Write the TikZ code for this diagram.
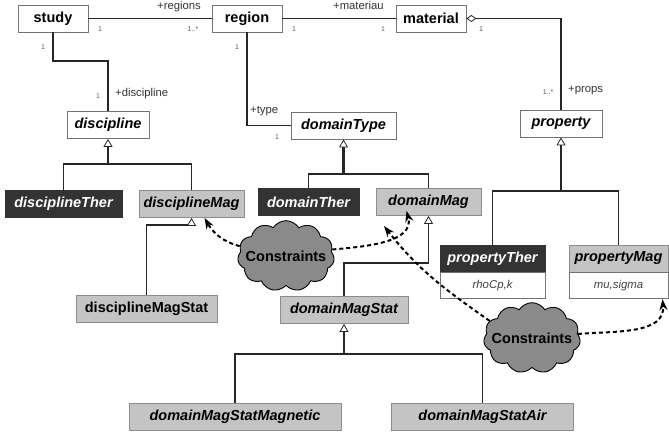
\documentclass[tikz,border=0pt]{standalone}
\usepackage{fontspec}
\setmainfont{Liberation Sans}
\usetikzlibrary{positioning,arrows.meta,shapes.symbols}

\tikzset{
  cls/.style={draw=black!55, line width=0.8pt, fill=white, minimum height=27pt,
    inner sep=0pt, font=\fontsize{14.5}{16}\selectfont\bfseries},
  abst/.style={cls, font=\fontsize{14.5}{16}\selectfont\bfseries\itshape},
  ther/.style={abst, fill=black!80, draw=black!80, text=white},
  mag/.style={abst, fill=black!23, draw=black!45},
  attr/.style={draw=black!55, line width=0.8pt, fill=white, minimum height=26pt,
    inner sep=0pt, font=\fontsize{11.4}{13}\selectfont\itshape, text=black!75},
  assoc/.style={line width=1.9pt, black!85},
  gen/.style={line width=1.4pt, black!85},
  tri/.style={-{Triangle[open, length=8pt, width=9pt, line width=0.8pt, fill=white]}},
  trunk/.style={gen, line width=2.2pt, tri},
  role/.style={font=\fontsize{11.3}{13}\selectfont, text=black!80, inner sep=0pt, anchor=base west},
  mult/.style={font=\fontsize{7}{8}\selectfont, text=black!65, inner sep=0pt},
  cld/.style={cloud, cloud puffs=11, cloud puff arc=115, aspect=1.55, draw, line width=0.9pt,
    fill=black!46, inner xsep=-8pt, inner ysep=7pt, minimum width=96pt, minimum height=59pt,
    font=\fontsize{14.5}{16}\selectfont\bfseries},
  constr/.style={line width=2pt, dash pattern=on 4pt off 3pt, -{Stealth[length=11pt, width=8pt]}}
}

\begin{document}
\begin{tikzpicture}[x=1pt, y=1pt]
  \useasboundingbox (0,0) rectangle (669,-435);

  % classes
  \node[cls, minimum width=70pt] (study) at (53,-18.5) {study};
  \node[cls, minimum width=70pt] (region) at (247,-18.5) {region};
  \node[cls, minimum width=70pt] (material) at (431,-18.5) {material};
  \node[abst, minimum width=82pt] (discipline) at (108,-125) {discipline};
  \node[abst, minimum width=105pt] (domainType) at (343.5,-125.5) {domainType};
  \node[abst, minimum width=82pt] (property) at (561,-123.5) {property};

  \node[ther, minimum width=117pt] (disciplineTher) at (63.5,-204) {disciplineTher};
  \node[mag, minimum width=105pt] (disciplineMag) at (191.5,-204) {disciplineMag};
  \node[ther, minimum width=101pt] (domainTher) at (308.5,-202) {domainTher};
  \node[mag, minimum width=105pt] (domainMag) at (428.5,-202) {domainMag};
  \node[ther, minimum width=105pt] (propertyTher) at (492.5,-258.5) {propertyTher};
  \node[attr, minimum width=105pt, below=0pt of propertyTher] (therAttr) {rhoCp,k};
  \node[mag, minimum width=99pt] (propertyMag) at (618.5,-258.5) {propertyMag};
  \node[attr, minimum width=99pt, below=0pt of propertyMag] (magAttr) {mu,sigma};

  \node[cls, fill=black!23, draw=black!45, minimum width=141pt] (disciplineMagStat) at (146.5,-309) {disciplineMagStat};
  \node[mag, minimum width=128pt] (domainMagStat) at (344,-310) {domainMagStat};
  \node[mag, minimum width=212pt] (domainMagStatMagnetic) at (235,-416.5) {domainMagStatMagnetic};
  \node[mag, minimum width=182pt] (domainMagStatAir) at (482.5,-416.5) {domainMagStatAir};

  \node[cld] (cons1) at (286,-256) {Constraints};
  \node[cld] (cons2) at (532,-338) {Constraints};

  % associations
  \draw[assoc] (study) -- (region);
  \draw[assoc] (region) -- (material);
  \draw[assoc] (study.south) -- ++(0,-29) -| (discipline.north);
  \draw[assoc] (region.south) |- (domainType.west);
  \draw[assoc, {Diamond[open, length=10pt, width=7pt, line width=0.8pt, fill=white]}-] (material.east) -| (property.north);

  \node[role] (rRegions) at (157,-9.5) {+regions};
  \node[role] (rMateriau) at (333,-9.5) {+materiau};
  \node[role] (rDiscipline) at (115,-97) {+discipline};
  \node[role] (rType) at (250,-114) {+type};
  \node[role] (rProps) at (568,-93) {+props};
  \foreach \x/\y/\t [count=\i] in {100/29/1, 193/29/1..*, 294/29/1, 383/29/1, 481/29/1,
      548/92/1..*, 43/47/1, 98/96/1, 237/47/1, 277/137/1}
    \node[mult] (m\i) at (\x,-\y) {\t};

  % generalizations
  \coordinate (discJ) at (108,-164);
  \coordinate (domJ) at (343.5,-174);
  \coordinate (propJ) at (561,-191);
  \coordinate (statJ) at (344,-354);
  \coordinate (discMagJ) at (191.5,-225);
  \coordinate (domMagJ) at (428.5,-263);

  \draw[trunk] (discJ) -- (discipline.south);
  \draw[gen] (disciplineTher.north) |- (discJ) -| (disciplineMag.north);
  \draw[trunk] (domJ) -- (domainType.south);
  \draw[gen] (domainTher.north) |- (domJ) -| (domainMag.north);
  \draw[trunk] (propJ) -- (property.south);
  \draw[gen] (propertyTher.north) |- (propJ) -| (propertyMag.north);
  \draw[trunk] (statJ) -- (domainMagStat.south);
  \draw[gen] (domainMagStatMagnetic.north) |- (statJ) -| (domainMagStatAir.north);
  \draw[gen, tri] (disciplineMagStat.north) |- (discMagJ) -- (disciplineMag.south);
  \draw[gen, tri] (domainMagStat.north) |- (domMagJ) -- (domainMag.south);

  % constraints
  \draw[constr] (cons1.168) to[out=165, in=-60] ([xshift=13pt]disciplineMag.south);
  \draw[constr] (cons1.8) to[out=5, in=-75] ([xshift=-22pt, yshift=5pt]domainMag.south);
  \draw[constr] (cons2.158) to[out=145, in=-52] (384,-226);
  \draw[constr] (cons2.5) to[out=5, in=-85] ([xshift=44pt]magAttr.south);
\end{tikzpicture}
\end{document}
